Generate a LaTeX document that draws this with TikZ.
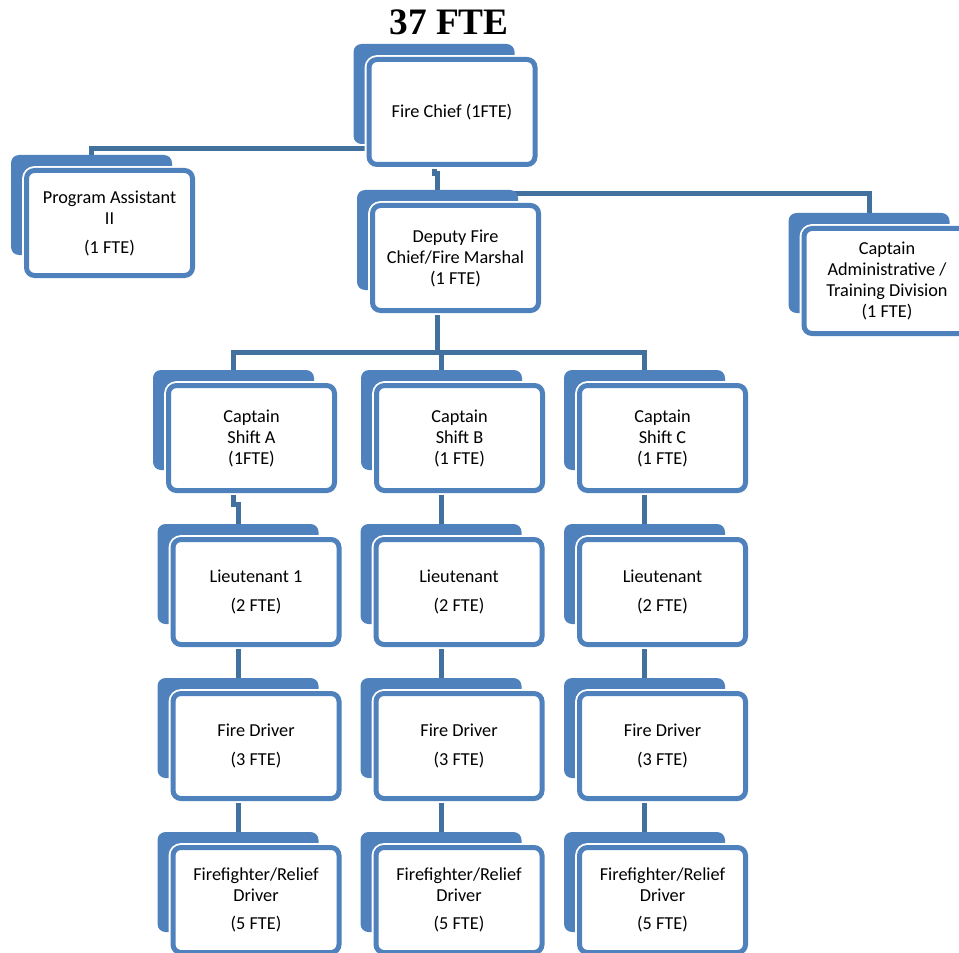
\documentclass[tikz,border=0pt]{standalone}
\usepackage{fontspec}
\setmainfont{Carlito}
\newfontfamily\titlefont{Liberation Serif}
\usepackage{tikz}
\usetikzlibrary{backgrounds}
\definecolor{boxblue}{HTML}{4F81BD}
\definecolor{lineblue}{HTML}{41719C}

\begin{document}
\begin{tikzpicture}[x=0.75pt,y=-0.75pt,
    frontbox/.style={draw=boxblue, line width=3.75pt, fill=white, rounded corners=6pt,
      minimum width=124.5pt, minimum height=78.75pt, inner sep=0pt, align=center,
      font=\fontsize{13.7}{15.75}\selectfont, preaction={draw=white, line width=6.5pt}},
    backbox/.style={fill=boxblue, rounded corners=6pt, minimum width=120.75pt,
      minimum height=75pt, inner sep=0pt},
    link/.style={draw=lineblue, line width=3.75pt}]
      \useasboundingbox (0,0) rectangle (959,952);
      \node (title) at (449,22) {\titlefont\fontsize{28}{30}\selectfont\bfseries 37 FTE};

      \node [backbox] (chiefb) at (434,94) {};
      \node [frontbox] (chief) at (452,112) {Fire Chief (1FTE)};
      \node [backbox] (pab) at (91.5,205) {};
      \node [frontbox] (pa) at (109.5,223) {Program Assistant\\II\\[6pt](1 FTE)};
      \node [backbox] (deputyb) at (437.5,240) {};
      \node [frontbox] (deputy) at (455.5,258) {Deputy Fire\\Chief/Fire Marshal\\(1 FTE)};
      \node [backbox] (adminb) at (869,263) {};
      \node [frontbox] (admin) at (887,281) {Captain\\Administrative /\\Training Division\\(1 FTE)};

      \node [backbox] (capAb) at (233.5,420) {};
      \node [frontbox] (capA) at (251.5,438) {Captain\\Shift A\\(1FTE)};
      \node [backbox] (capBb) at (441.5,420) {};
      \node [frontbox] (capB) at (459.5,438) {Captain\\Shift B\\(1 FTE)};
      \node [backbox] (capCb) at (644.5,420) {};
      \node [frontbox] (capC) at (662.5,438) {Captain\\Shift C\\(1 FTE)};

      \node [backbox] (ltAb) at (238,574) {};
      \node [frontbox] (ltA) at (256,592) {Lieutenant 1\\[5.5pt](2 FTE)};
      \node [backbox] (ltBb) at (441,574) {};
      \node [frontbox] (ltB) at (459,592) {Lieutenant\\[5.5pt](2 FTE)};
      \node [backbox] (ltCb) at (644.5,574) {};
      \node [frontbox] (ltC) at (662.5,592) {Lieutenant\\[5.5pt](2 FTE)};

      \node [backbox] (drvAb) at (238,728) {};
      \node [frontbox] (drvA) at (256,746) {Fire Driver\\[5.5pt](3 FTE)};
      \node [backbox] (drvBb) at (441,728) {};
      \node [frontbox] (drvB) at (459,746) {Fire Driver\\[5.5pt](3 FTE)};
      \node [backbox] (drvCb) at (644.5,728) {};
      \node [frontbox] (drvC) at (662.5,746) {Fire Driver\\[5.5pt](3 FTE)};

      \node [backbox] (ffAb) at (238,882) {};
      \node [frontbox] (ffA) at (256,900) {Firefighter/Relief\\Driver\\[5.5pt](5 FTE)};
      \node [backbox] (ffBb) at (441,882) {};
      \node [frontbox] (ffB) at (459,900) {Firefighter/Relief\\Driver\\[5.5pt](5 FTE)};
      \node [backbox] (ffCb) at (644.5,882) {};
      \node [frontbox] (ffC) at (662.5,900) {Firefighter/Relief\\Driver\\[5.5pt](5 FTE)};

      \begin{pgfonlayer}{background}
      \draw [link] (chiefb.south) -- ++(0,4) -| (pab.north);
      \draw [link] (chiefb.south) -- ++(0,29) -| (deputyb.north);
      \draw [link] (deputyb.north) -- ++(0,4) -| (adminb.north);
      \draw [link] (deputyb.south) -- ++(0,62) -| (capAb.north);
      \draw [link] (deputyb.south) -- ++(0,62) -| (capBb.north);
      \draw [link] (deputyb.south) -- ++(0,62) -| (capCb.north);
      \draw [link] (capAb.south) -- ++(0,34) -| (ltAb.north);
      \draw [link] (capBb.south) -- ++(0,34) -| (ltBb.north);
      \draw [link] (capCb.south) -- ++(0,34) -| (ltCb.north);
      \draw [link] (ltAb.south) -- (drvAb.north);
      \draw [link] (ltBb.south) -- (drvBb.north);
      \draw [link] (ltCb.south) -- (drvCb.north);
      \draw [link] (drvAb.south) -- (ffAb.north);
      \draw [link] (drvBb.south) -- (ffBb.north);
      \draw [link] (drvCb.south) -- (ffCb.north);
      \end{pgfonlayer}
    \end{tikzpicture}
\end{document}
